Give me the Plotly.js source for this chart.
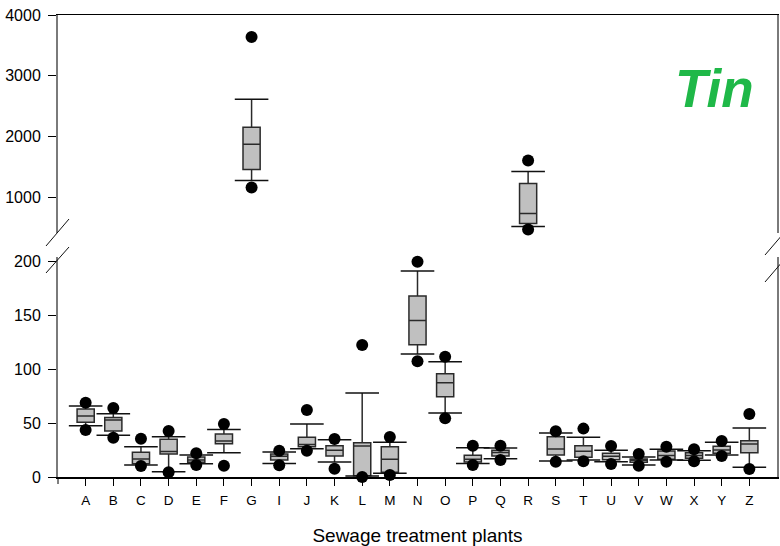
<!DOCTYPE html>
<html>
<head>
<meta charset="utf-8">
<script src="https://cdn.plot.ly/plotly-3.0.1.min.js"></script>
<style>html,body{margin:0;padding:0;background:#fff}#chart{width:780px;height:546px}</style>
</head>
<body>
<div id="chart"></div>
<script>
// Sewage treatment plants (H absent)
var categories = ["A","B","C","D","E","F","G","I","J","K","L","M","N","O","P","Q","R","S","T","U","V","W","X","Y","Z"];
var lowPoint   = [43.5, 36.4, 10.2,  4.3, 11.1, 10.5, 1157, 10.8, 24.4,  7.7,   0.0,  1.9, 107.1,  54.3, 11.1, 15.7,  463, 14.2, 14.5, 12.0, 10.5, 14.2, 14.5, 19.4,  7.4];
var lowWhisker = [47.5, 38.6, 11.1,  4.9, 12.3, 22.5, 1273, 12.6, 26.2, 13.9,   0.9,  3.4, 113.9,  59.3, 12.6, 17.0,  512, 14.8, 15.7, 14.2, 11.1, 15.7, 15.4, 20.4,  9.0];
var q1         = [50.6, 42.6, 12.3, 21.3, 13.6, 30.9, 1455, 15.7, 28.1, 19.4,   1.2,  4.3, 122.5,  74.4, 13.9, 19.4,  562, 20.4, 18.2, 16.0, 13.6, 16.4, 17.3, 21.9, 22.5];
var median     = [56.5, 52.8, 16.7, 23.5, 15.7, 33.3, 1868, 19.1, 30.2, 24.7,  28.7, 16.4, 145.0,  87.3, 16.4, 22.8,  727, 25.9, 23.8, 19.1, 15.4, 19.8, 19.8, 25.0, 30.6];
var q3         = [63.0, 55.0, 23.0, 34.9, 18.5, 39.8, 2149, 21.3, 36.7, 29.0,  31.8, 28.1, 167.6,  95.7, 20.1, 24.7, 1223, 37.3, 29.0, 21.9, 16.7, 24.1, 22.5, 28.4, 33.6];
var highWhisker= [65.7, 58.6, 28.0, 37.3, 20.4, 44.0, 2612, 23.1, 49.0, 34.6,  77.8, 32.1, 190.7, 106.8, 27.2, 26.9, 1421, 40.7, 36.7, 24.7, 18.5, 25.6, 24.4, 32.1, 45.4];
var highPoint  = [68.8, 64.0, 35.5, 42.6, 21.9, 49.0, 3636, 24.4, 62.0, 35.2, 122.2, 37.0, 199.4, 111.4, 29.0, 29.0, 1603, 42.3, 44.8, 28.7, 21.3, 28.1, 25.6, 33.3, 58.3];
var lowerTicks = [0, 50, 100, 150, 200];
var upperTicks = [1000, 2000, 3000, 4000];
var panelLabel = "Tin";
var xTitle = "Sewage treatment plants";

function pick(arr, idx){ return idx.map(function(i){ return arr[i]; }); }
var lowIdx = [], upIdx = [];
categories.forEach(function(c, i){ (median[i] > 300 ? upIdx : lowIdx).push(i); });

var traces = [];
function addPanel(idx, xa, ya){
  var xs = pick(categories, idx);
  traces.push({
    type: 'box', x: xs, xaxis: xa, yaxis: ya,
    q1: pick(q1, idx), median: pick(median, idx), q3: pick(q3, idx),
    lowerfence: pick(lowWhisker, idx), upperfence: pick(highWhisker, idx),
    boxpoints: false, width: 0.62, whiskerwidth: 0,
    fillcolor: '#c0c0c0', line: {color: '#2a2a2a', width: 1.5},
    hoverinfo: 'skip', showlegend: false
  });
  // whisker caps
  traces.push({
    type: 'scatter', mode: 'markers', xaxis: xa, yaxis: ya,
    x: xs.concat(xs), y: pick(lowWhisker, idx).concat(pick(highWhisker, idx)),
    marker: {symbol: 'line-ew', size: 24, line: {color: '#111', width: 1.5}},
    cliponaxis: false, hoverinfo: 'skip', showlegend: false
  });
  // outlier points
  traces.push({
    type: 'scatter', mode: 'markers', xaxis: xa, yaxis: ya,
    x: xs.concat(xs), y: pick(lowPoint, idx).concat(pick(highPoint, idx)),
    marker: {symbol: 'circle', size: 12, color: '#000'},
    cliponaxis: false, hoverinfo: 'skip', showlegend: false
  });
}
addPanel(lowIdx, 'x', 'y');
addPanel(upIdx, 'x2', 'y2');

var L = 58, R = 777, T = 15, B = 477, W = 780, H = 546;
var pw = R - L, ph = B - T;
function px(x){ return (x - L) / pw; }
function py(y){ return (B - y) / ph; }

var font = "'Liberation Sans', Arial, sans-serif";
var gray = '#7a7a7a';
var slash = function(x0, y0, x1, y1){
  return {type: 'line', xref: 'paper', yref: 'paper', x0: px(x0), y0: py(y0), x1: px(x1), y1: py(y1),
          line: {color: '#111', width: 1}};
};

var layout = {
  width: W, height: H,
  margin: {l: L, r: W - R, t: T, b: H - B, pad: 0},
  paper_bgcolor: '#fff', plot_bgcolor: 'rgba(0,0,0,0)',
  font: {family: font, color: '#000', size: 13},
  showlegend: false,
  xaxis: {
    type: 'category', categoryorder: 'array', categoryarray: categories,
    range: [-1, 25], domain: [0, 1], anchor: 'y',
    showline: true, linecolor: '#000', linewidth: 1.5,
    ticks: 'outside', ticklen: 7, tickwidth: 1, tickcolor: '#000',
    ticklabelstandoff: 3,
    showgrid: false, zeroline: false,
    tickfont: {family: font, size: 13.5},
    title: {text: xTitle, font: {family: font, size: 19}, standoff: 24}
  },
  xaxis2: {
    type: 'category', categoryorder: 'array', categoryarray: categories,
    range: [-1, 25], domain: [0, 1], anchor: 'y2', side: 'top',
    showline: true, linecolor: '#000', linewidth: 1.5,
    ticks: '', showticklabels: false, showgrid: false, zeroline: false
  },
  yaxis: {
    domain: [0, py(256.7)], range: [0, 204], anchor: 'x',
    tickmode: 'array', tickvals: lowerTicks,
    showline: true, linecolor: gray, linewidth: 2, mirror: true,
    ticks: 'outside', ticklen: 8, tickwidth: 1, tickcolor: '#000',
    ticklabelstandoff: 4,
    showgrid: false, zeroline: false,
    tickfont: {family: font, size: 16}
  },
  yaxis2: {
    domain: [py(233.4), 1], range: [400, 4000], anchor: 'x2',
    tickmode: 'array', tickvals: upperTicks,
    showline: true, linecolor: gray, linewidth: 2, mirror: true,
    ticks: 'outside', ticklen: 8, tickwidth: 1, tickcolor: '#000',
    ticklabelstandoff: 4,
    showgrid: false, zeroline: false,
    tickfont: {family: font, size: 16}
  },
  shapes: [
    slash(46, 246, 69, 219),
    slash(46, 273, 69, 247),
    slash(765, 255, 789, 227),
    slash(765, 282, 789, 254),
    {type: 'line', xref: 'paper', yref: 'paper', x0: 0, x1: 0, y0: 0, y1: -7/ph, line: {color: '#000', width: 1}}
  ],
  annotations: [{
    text: '<b><i>' + panelLabel + '</i></b>', xref: 'paper', yref: 'paper',
    x: px(714), y: py(88), xanchor: 'center', yanchor: 'middle', showarrow: false,
    font: {family: font, size: 53, color: '#1fb848'}
  }]
};

Plotly.newPlot('chart', traces, layout, {staticPlot: true, displayModeBar: false});
</script>
</body>
</html>
